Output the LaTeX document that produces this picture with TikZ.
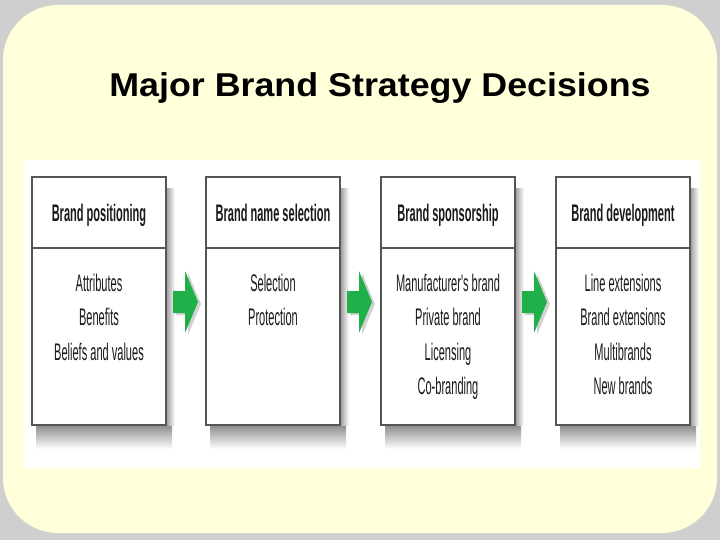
\documentclass[tikz,border=0pt]{standalone}
\usepackage{fontspec}
\setmainfont{Liberation Sans}
\newfontfamily\condfont[FakeStretch=0.46]{Liberation Sans}
\newfontfamily\titlefont[FakeStretch=1.085]{Liberation Sans}
\usetikzlibrary{calc}
\definecolor{marble}{HTML}{CFCFCF}
\definecolor{paper}{HTML}{FFFFDA}
\definecolor{boxline}{HTML}{555555}
\definecolor{arrowgreen}{HTML}{1FB04A}
\definecolor{txt}{HTML}{1A1A1A}
\tikzset{
  card/.style={draw=boxline, line width=1.1pt, fill=white, minimum width=134pt, minimum height=248pt, anchor=north west, inner sep=0pt, outer sep=0pt},
  headtxt/.style={anchor=base, inner sep=0pt, text=txt, font=\condfont\bfseries\fontsize{24}{34}\selectfont},
  bodytxt/.style={anchor=north, inner sep=0pt, align=center, text=txt, font=\condfont\fontsize{24}{34.3}\selectfont},
}
\newcommand{\boxshadow}[1]{%
  \shade[top color=black!45, bottom color=white] ($(#1.south west)+(4,0)$) rectangle ($(#1.south east)+(6,24)$);
  \shade[left color=black!40, right color=white] ($(#1.north east)+(0,12)$) rectangle ($(#1.south east)+(9,0)$);
}
\begin{document}
\begin{tikzpicture}[x=1pt,y=-1pt]
\useasboundingbox (0,0) rectangle (720,540);
\fill[marble] (0,0) rectangle (720,540);
\fill[paper, rounded corners=55pt] (3,5) rectangle (717,533);
\fill[white] (24,160) rectangle (700,468);
\node[anchor=base, inner sep=0pt, font=\titlefont\bfseries\fontsize{33}{40}\selectfont] (title) at (380,97) {Major Brand Strategy Decisions};
% shadows first
\path (32,177) node[card, draw=none, fill=none] (s1) {}
      (206,177) node[card, draw=none, fill=none] (s2) {}
      (381,177) node[card, draw=none, fill=none] (s3) {}
      (556,177) node[card, draw=none, fill=none] (s4) {};
\boxshadow{s1}\boxshadow{s2}\boxshadow{s3}\boxshadow{s4}
\node[card] (b1) at (32,177) {};
\node[card] (b2) at (206,177) {};
\node[card] (b3) at (381,177) {};
\node[card] (b4) at (556,177) {};
\foreach \b in {b1,b2,b3,b4}{
  \draw[boxline, line width=1.1pt] ($(\b.north west)+(0,71)$) -- ($(\b.north east)+(0,71)$);
}
\node[headtxt] (h1) at ($(b1.north)+(0,45)$) {Brand positioning};
\node[headtxt] (h2) at ($(b2.north)+(0,45)$) {Brand name selection};
\node[headtxt] (h3) at ($(b3.north)+(0,45)$) {Brand sponsorship};
\node[headtxt] (h4) at ($(b4.north)+(0,45)$) {Brand development};
\node[bodytxt] (t1) at ($(b1.north)+(0,97)$) {Attributes\\Benefits\\Beliefs and values};
\node[bodytxt] (t2) at ($(b2.north)+(0,97)$) {Selection\\Protection};
\node[bodytxt] (t3) at ($(b3.north)+(0,97)$) {Manufacturer's brand\\Private brand\\Licensing\\Co-branding};
\node[bodytxt] (t4) at ($(b4.north)+(0,97)$) {Line extensions\\Brand extensions\\Multibrands\\New brands};
\coordinate (a1) at (b1.east |- 0,313);
\coordinate (a2) at (b2.east |- 0,313);
\coordinate (a3) at (b3.east |- 0,313);
\foreach \a in {a1,a2,a3}{
  \fill[black!18] ($(\a)+(10,2)$) -- ++(12,0) -- ++(0,20) -- ++(13,-31) -- ++(-13,-31) -- ++(0,20) -- ++(-12,0) -- cycle;
  \fill[arrowgreen] ($(\a)+(7,0)$) -- ++(12,0) -- ++(0,20) -- ++(13,-31) -- ++(-13,-31) -- ++(0,20) -- ++(-12,0) -- cycle;
}
\end{tikzpicture}
\end{document}
